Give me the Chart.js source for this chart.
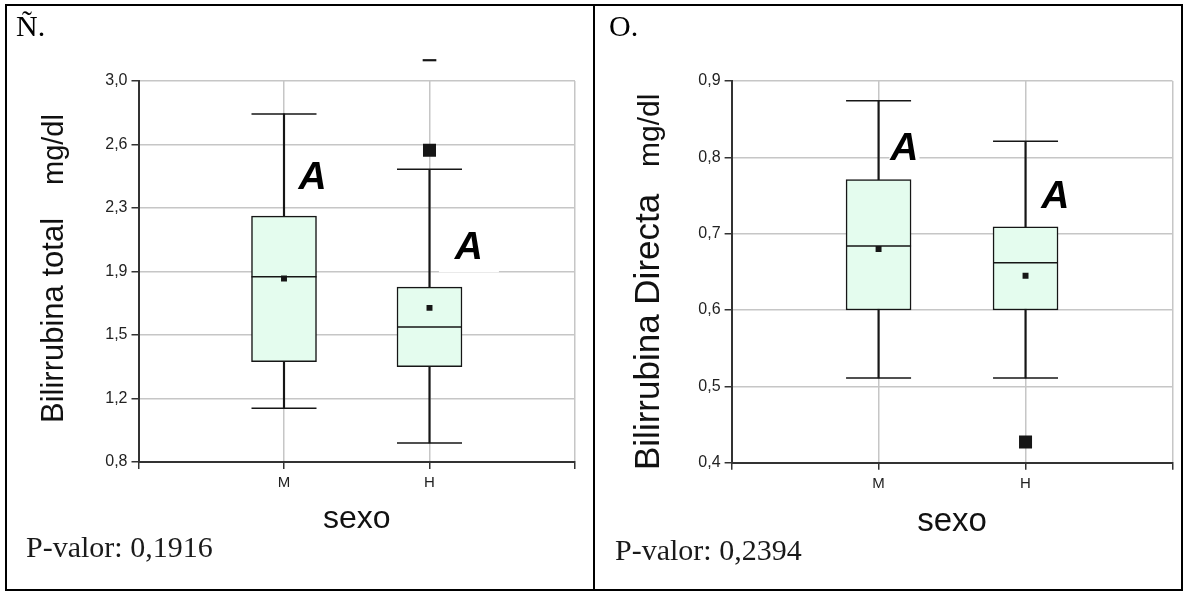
<!DOCTYPE html>
<html lang="es">
  <head>
    <meta charset="UTF-8">
    <meta name="viewport" content="width=device-width, initial-scale=1.0">
    <title>Bilirrubina total y directa por sexo</title>
    <script src="https://cdn.jsdelivr.net/npm/chart.js@4.4.1/dist/chart.umd.min.js"></script>
    <style>
      body { margin: 0; background: #fff; font-family: 'Liberation Serif', 'Times New Roman', serif; }
      .frame { position: absolute; left: 5px; top: 4px; width: 1174px; height: 583px; border: 2px solid #000; }
      .divider { position: absolute; left: 593px; top: 4px; width: 2px; height: 587px; background: #000; }
      canvas { position: absolute; top: 6px; }
      .label { position: absolute; font-size: 30px; line-height: 30px; color: #000; white-space: nowrap; }
      .pval { position: absolute; font-size: 30px; line-height: 30px; color: #1a1a1a; white-space: nowrap; }
    </style>
  </head>
  <body>
    <div class="frame"></div>
    <div class="divider"></div>
    <canvas id="total" width="586" height="583" style="left:7px"></canvas>
    <canvas id="directa" width="586" height="583" style="left:595px"></canvas>
    <div class="label" style="left:16px; top:11px">Ñ.</div>
    <div class="label" style="left:609px; top:11px">O.</div>
    <div class="pval" style="left:26px; top:532px">P-valor: 0,1916</div>
    <div class="pval" style="left:615px; top:535px">P-valor: 0,2394</div>
    <script type="text/javascript">
      const categories = ['M', 'H']

      // Bilirrubina total (mg/dl)
      const totalTicks = ['0,8', '1,2', '1,5', '1,9', '2,3', '2,6', '3,0']
      const totalRange = [0.8, 3.0]
      const totalLow = [1.11, 0.91]
      const totalQ1 = [1.38, 1.35]
      const totalMedian = [1.87, 1.58]
      const totalQ3 = [2.22, 1.81]
      const totalHigh = [2.81, 2.49]
      const totalMean = [1.86, 1.69]
      const totalOutliers = [[], [2.60]]
      const totalBeyond = [[], [3.12]]

      // Bilirrubina directa (mg/dl)
      const directaTicks = ['0,4', '0,5', '0,6', '0,7', '0,8', '0,9']
      const directaRange = [0.4, 0.9]
      const directaLow = [0.511, 0.511]
      const directaQ1 = [0.600, 0.600]
      const directaMedian = [0.684, 0.662]
      const directaQ3 = [0.771, 0.709]
      const directaHigh = [0.874, 0.821]
      const directaMean = [0.680, 0.645]
      const directaOutliers = [[], [0.427]]
      const directaBeyond = [[], []]

      const ink = '#161616'
      const boxFill = '#e4fcee'
      const sans = '"Liberation Sans", Arial, sans-serif'
      Chart.defaults.font.family = sans

      // extra text: letters of significance, axis titles
      const panelText = {
        id: 'panelText',
        beforeDatasetsDraw(chart, args, o) {
          const {ctx, scales} = chart
          ctx.save()
          ctx.fillStyle = '#fff'
          o.letters.forEach(l => {
            const px = scales.x.getPixelForValue(l.x)
            const py = scales.y.getPixelForValue(l.y)
            ctx.fillRect(px - l.pad / 2, py - 24, l.pad, 48)
          })
          ctx.restore()
        },
        afterDatasetsDraw(chart, args, o) {
          const {ctx, scales} = chart
          ctx.save()
          ctx.fillStyle = '#000'
          ctx.font = 'italic bold 39px ' + sans
          ctx.textAlign = 'center'
          ctx.textBaseline = 'middle'
          o.letters.forEach(l => {
            ctx.fillText(l.text, scales.x.getPixelForValue(l.x), scales.y.getPixelForValue(l.y))
          })
          ctx.restore()
        },
        afterDraw(chart, args, o) {
          const {ctx, chartArea} = chart
          ctx.save()
          ctx.fillStyle = '#111'
          ctx.textBaseline = 'alphabetic'
          o.yTitle.forEach(t => {
            ctx.save()
            ctx.translate(t.x, t.y)
            ctx.rotate(-Math.PI / 2)
            ctx.font = t.size + 'px ' + sans
            ctx.textAlign = 'left'
            ctx.fillText(t.text, 0, 0)
            ctx.restore()
          })
          ctx.font = o.xTitle.size + 'px ' + sans
          ctx.textAlign = 'center'
          ctx.fillText(o.xTitle.text, (chartArea.left + chartArea.right) / 2, o.xTitle.y)
          ctx.restore()
        }
      }

      function boxConfig(s) {
        const at = i => i + 1
        const pts = arr => arr.map((v, i) => ({x: at(i), y: v}))
        const flat = lists => lists.flatMap((l, i) => l.map(v => ({x: at(i), y: v})))
        const [min, max] = s.range
        const step = (max - min) / (s.ticks.length - 1)
        const xLabels = ['', ...categories, '']
        // half the thickness of the off-scale dash, in axis units (about 0.8px)
        const dashHalf = (max - min) * 0.002
        const marks = (data, style, radius, extra) => Object.assign({
          type: 'line',
          showLine: false,
          data: data,
          pointStyle: style,
          pointRadius: radius,
          borderColor: ink,
          backgroundColor: ink,
          borderWidth: 1.5,
          order: 0
        }, extra || {})
        return {
          type: 'bar',
          data: {
            datasets: [
              marks([...pts(s.low), ...pts(s.high)], 'line', 32.5),
              marks(pts(s.median), 'line', 32.5),
              marks(pts(s.mean), 'rect', 4.2, {borderWidth: 0}),
              marks(flat(s.outliers), 'rect', 9.2, {borderWidth: 0}),
              {
                // value above the axis maximum, drawn as a short dash outside the plot
                type: 'bar',
                data: flat(s.beyond).map(p => ({x: p.x, y: [p.y - dashHalf, p.y + dashHalf]})),
                barThickness: 13,
                backgroundColor: ink,
                borderWidth: 0,
                grouped: false,
                clip: false,
                order: 0
              },
              {
                type: 'bar',
                data: s.q1.map((v, i) => ({x: at(i), y: [v, s.q3[i]]})),
                barThickness: 65,
                backgroundColor: boxFill,
                borderColor: ink,
                borderWidth: 1.5,
                borderSkipped: false,
                grouped: false,
                order: 1
              },
              {
                type: 'bar',
                data: s.low.map((v, i) => ({x: at(i), y: [v, s.high[i]]})),
                barThickness: 1.5,
                backgroundColor: ink,
                borderWidth: 0,
                grouped: false,
                order: 2
              }
            ]
          },
          options: {
            responsive: false,
            animation: false,
            events: [],
            layout: {autoPadding: false, padding: {top: 75, right: s.padRight, left: 0, bottom: 0}},
            plugins: {
              legend: {display: false},
              tooltip: {enabled: false},
              panelText: s.text
            },
            scales: {
              x: {
                type: 'linear',
                min: 0,
                max: 3,
                offset: false,
                afterBuildTicks: axis => { axis.ticks = [0, 1, 2, 3].map(v => ({value: v})) },
                afterFit: axis => { axis.height = s.xHeight },
                ticks: {
                  autoSkip: false,
                  maxRotation: 0,
                  padding: 5,
                  color: '#222',
                  font: {size: 15},
                  callback: (v, i) => xLabels[i]
                },
                grid: {offset: false, color: '#c6c6c6', lineWidth: 1.5, tickLength: 7, tickColor: '#333', tickWidth: 1.5},
                border: {color: '#333', width: 2}
              },
              y: {
                type: 'linear',
                min: min,
                max: max,
                beginAtZero: false,
                afterBuildTicks: axis => { axis.ticks = s.ticks.map((t, i) => ({value: min + i * step})) },
                afterFit: axis => { axis.width = s.yWidth },
                ticks: {
                  autoSkip: false,
                  padding: 4,
                  color: '#222',
                  font: {size: 16},
                  callback: (v, i) => s.ticks[i]
                },
                grid: {color: '#c6c6c6', lineWidth: 1.5, tickLength: 7, tickColor: '#333', tickWidth: 1.5},
                border: {color: '#333', width: 2}
              }
            }
          },
          plugins: [panelText]
        }
      }

      new Chart(document.getElementById('total'), boxConfig({
        ticks: totalTicks, range: totalRange,
        low: totalLow, q1: totalQ1, median: totalMedian, q3: totalQ3, high: totalHigh,
        mean: totalMean, outliers: totalOutliers, beyond: totalBeyond,
        yWidth: 131.5, xHeight: 127, padRight: 18,
        text: {
          letters: [
            {text: 'A', x: 1.196, y: 2.441, pad: 30},
            {text: 'A', x: 2.271, y: 2.034, pad: 60}
          ],
          yTitle: [
            {text: 'Bilirrubina total', x: 56, y: 417, size: 31},
            {text: 'mg/dl', x: 56, y: 179, size: 29}
          ],
          xTitle: {text: 'sexo', y: 522, size: 32}
        }
      }))

      new Chart(document.getElementById('directa'), boxConfig({
        ticks: directaTicks, range: directaRange,
        low: directaLow, q1: directaQ1, median: directaMedian, q3: directaQ3, high: directaHigh,
        mean: directaMean, outliers: directaOutliers, beyond: directaBeyond,
        yWidth: 136.6, xHeight: 126.3, padRight: 8.5,
        text: {
          letters: [
            {text: 'A', x: 1.176, y: 0.811, pad: 30},
            {text: 'A', x: 2.203, y: 0.748, pad: 30}
          ],
          yTitle: [
            {text: 'Bilirrubina Directa', x: 64, y: 464, size: 35},
            {text: 'mg/dl', x: 64, y: 161, size: 30}
          ],
          xTitle: {text: 'sexo', y: 525, size: 33}
        }
      }))
    </script>
  </body>
</html>
